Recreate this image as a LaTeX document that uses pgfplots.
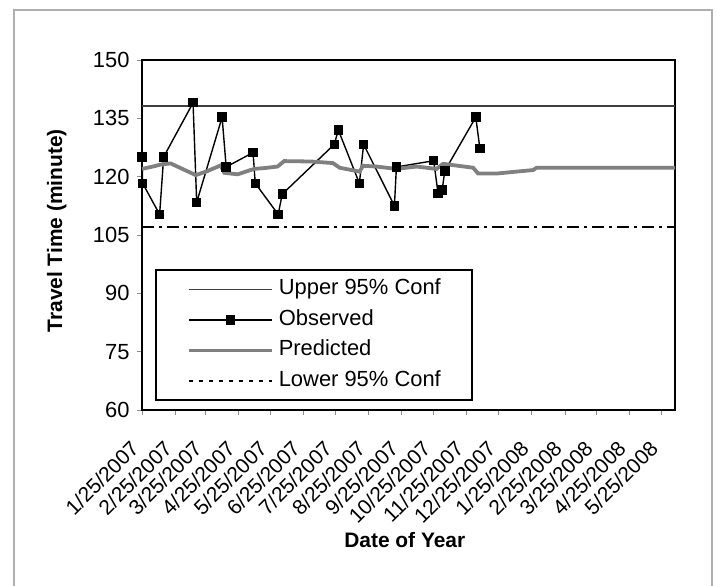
\documentclass[border=0pt]{standalone}
\usepackage{fontspec}
\setmainfont{Liberation Sans}
\usepackage{pgfplots}
\pgfplotsset{compat=1.18}
\definecolor{predgray}{RGB}{128,128,128}
\definecolor{framegray}{RGB}{175,175,175}
\begin{document}
\begin{tikzpicture}[x=1bp,y=1bp]
\begin{axis}[
  at={(0,0)}, anchor=south west,
  scale only axis, width=533bp, height=350bp,
  xmin=0, xmax=499, ymin=60, ymax=150,
  ytick={60,75,90,105,120,135,150},
  xtick={0,31,59,90,120,151,181,212,243,273,304,334,365,396,425,456,486},
  xticklabels={1/25/2007,2/25/2007,3/25/2007,4/25/2007,5/25/2007,6/25/2007,7/25/2007,8/25/2007,9/25/2007,10/25/2007,11/25/2007,12/25/2007,1/25/2008,2/25/2008,3/25/2008,4/25/2008,5/25/2008},
  /pgf/number format/assume math mode=true,
  y tick label style={font=\fontsize{22}{26}\selectfont, xshift=-4bp},
  x tick label style={font=\fontsize{21}{25}\selectfont, inner sep=0bp, xshift=-7bp, yshift=-30bp, rotate=45, anchor=east},
  axis line style={line width=2bp},
  tick style={line width=0.8bp, black!45},
  major tick length=5bp, tick align=outside,
  xtick pos=lower, ytick pos=left,
  clip=false,
  xlabel={Date of Year}, ylabel={Travel Time (minute)},
  every axis x label/.style={at={(axis description cs:0.493,-0.394)}, anchor=base,
    font=\bfseries\fontsize{21}{25}\selectfont},
  every axis y label/.style={at={(axis description cs:-0.150,0.512)}, rotate=90, anchor=base,
    font=\bfseries\fontsize{21}{25}\selectfont},
  legend style={at={(axis description cs:0.0244,0.403)}, anchor=north west,
    draw=black, line width=2bp, inner xsep=31bp, inner ysep=9bp,
    font=\fontsize{22}{26}\selectfont, row sep=9.5bp, column sep=5bp,
    nodes={inner sep=0bp, text height=16bp, text depth=5bp}},
  legend cell align=left,
  legend image code/.code={\draw[mark repeat=2, mark phase=2, #1] plot coordinates {(0bp,0bp) (41.5bp,0bp) (83bp,0bp)};},
]
% upper 95% confidence
\addplot[black!75, line width=1.7bp, no marks] coordinates {(0,138.2) (499,138.2)};
\addlegendentry{Upper 95\% Conf}
% observed
\addplot[black, line width=1.4bp, mark=square*, mark size=4bp, mark options={solid}] coordinates {
(0,125.1) (0.6,118.3) (16.5,110.3) (20.3,125.1) (47.8,139.0) (51.2,113.4)
(75,135.3) (78.8,122.5) (104,126.2) (106,118.3) (127.5,110.3) (131.3,115.5)
(180,128.3) (183.8,132.0) (203.5,118.3) (207.5,128.3) (236.3,112.5) (238.2,122.5)
(273.1,124.1) (277.2,115.6) (281,116.6) (283.5,121.5) (312.5,135.3) (316.3,127.3)};
\addlegendentry{Observed}
% predicted
\addplot[predgray, line width=3.8bp, no marks] coordinates {
(0,122.0) (10,122.6) (19,123.2) (26.8,123.4) (50.3,120.4) (60,121.3) (73.7,122.9)
(77,121.0) (89.4,120.6) (105,122.0) (114.4,122.2) (126.9,122.6) (133.1,124.0)
(158.1,123.9) (178.7,123.5) (185,122.3) (203.8,121.3) (206.8,122.8) (219.4,122.6)
(238.2,122.0) (256.9,122.6) (275.7,122.0) (281.9,123.3) (310,122.3) (314.7,120.8)
(331.9,120.8) (350.7,121.3) (366.2,121.7) (369.4,122.3) (499,122.3)};
\addlegendentry{Predicted}
% lower 95% confidence
\addplot[black, line width=1.6bp, no marks, dash pattern=on 12bp off 5bp on 3bp off 5bp,
  legend image code/.code={\draw[black, line width=1.2bp, dash pattern=on 4bp off 6bp] (0bp,0bp) -- (83bp,0bp);}]
  coordinates {(0,107.0) (499,107.0)};
\addlegendentry{Lower 95\% Conf}
\end{axis}
\draw[framegray, line width=2bp] (-128,400) rectangle (570,-180);
\pgfresetboundingbox
\useasboundingbox (-142,-176) rectangle (574,410);
\end{tikzpicture}
\end{document}
